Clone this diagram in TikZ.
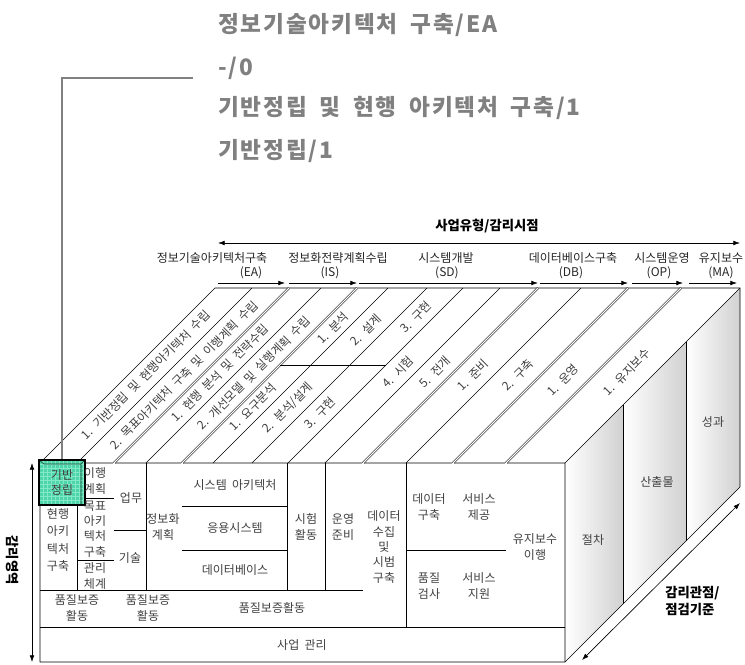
\documentclass[tikz,border=0pt]{standalone}
\usepackage{fontspec}
\setmainfont{Noto Sans CJK KR}[WordSpace=2]
\newfontfamily\titlefont{Noto Sans CJK KR}[LetterSpace=8,WordSpace=1.8]
\usetikzlibrary{arrows.meta}
\definecolor{hlfill}{RGB}{78,214,168}
\definecolor{hlgrid}{RGB}{130,232,200}
\definecolor{ttlgray}{RGB}{128,128,128}

\begin{document}
\begin{tikzpicture}[x=0.75pt, y=-0.75pt, line width=0.5pt, inner sep=0pt,
    lbl/.style={font=\fontsize{9}{11.5}\selectfont, text=black!75, align=center},
    tall/.style={lbl, font=\fontsize{9}{13}\selectfont},
    strip/.style={lbl, rotate=45},
    hdr/.style={font=\fontsize{9}{11}\selectfont, text=black!85},
    ttl/.style={font=\titlefont\bfseries\fontsize{17}{19}\selectfont, text=ttlgray, anchor=west},
    bold/.style={font=\bfseries\fontsize{10}{13}\selectfont},
    sect/.style={double, double distance=0.9pt, line width=0.4pt},
    harrow/.style={-{Latex[length=5pt,width=3.5pt]}},
    dim/.style={{Latex[length=5pt,width=3.5pt]}-{Latex[length=5pt,width=3.5pt]}},
    callout/.style={draw=ttlgray, line width=1.5pt}]
    \useasboundingbox (0,0) rectangle (745,664);

    % right face, three shaded slices
    \foreach \a/\ta/\b/\tb in {565/463/623/405, 623/405/686/342, 686/342/740/288}
        \shade[left color=white, right color=black!18] (\a,\ta) -- (\b,\tb) -- (\b,\tb+199) -- (\a,\ta+199) -- cycle;
    \draw (40,463) -- (215,288) -- (740,288) -- (740,487) -- (565,662) -- (40,662) -- cycle;
    \draw (40,463) -- (565,463) -- (740,288) (565,463) -- (565,662);
    \foreach \x in {623,686}
        \draw (\x,463-\x+565) -- (\x,662-\x+565);

    % top face strips
    \foreach \x in {77,146,213,252,288,325,406}
        \draw (\x,463) -- ++(175,-175);
    \foreach \x in {114,182,363,453,506}
        \draw[sect] (\x,463) -- ++(175,-175);
    \draw (280,365) -- (386,365);

    % front face grid
    \foreach \x in {114,182,363,453,506}
        \draw[sect] (\x,463) -- (\x,627);
    \foreach \x in {77,146,287,325}
        \draw (\x,463) -- (\x,590);
    \draw (406,463) -- (406,627);
    \draw (40,590) -- (363,590) (40,627) -- (565,627);
    \draw (77,498) -- (114,498) (77,560) -- (114,560) (114,530) -- (146,530);
    \draw (182,506) -- (287,506) (182,550) -- (287,550) (406,550) -- (506,550);

    % highlighted cell
    \fill[hlfill] (39,460) rectangle (85,505);
    \foreach \i in {43,47,...,83}
        \draw[hlgrid, line width=0.4pt] (\i,460) -- (\i,505);
    \foreach \j in {464,468,...,504}
        \draw[hlgrid, line width=0.4pt] (39,\j) -- (85,\j);
    \draw[black!70!hlfill, line width=0.4pt] (39,460) -- (44,464) -- (81,464) -- (85,460) (81,464) -- (81,505);
    \node[lbl, draw, line width=1.5pt, minimum width=34.5pt, minimum height=33.75pt] (hl) at (62,482.5) {기반\\정립};

    % front face labels
    \foreach \n/\x/\y/\t in {b1/95/481/{이행\\계획}, b2/95/529/{목표\\아키\\텍처\\구축}, b3/95/576/{관리\\체계},
            c1/131/498/업무, c2/130/558/기술,
            d1/163/527/{정보화\\계획}, e1/235/485/{시스템 아키텍처}, e2/235/528/응용시스템,
            e3/235/570/데이터베이스, f1/306/527/{시험\\활동}, g1/343/527/{운영\\준비},
            h1/384/547/{데이터\\수집\\및\\시범\\구축}, i1/429/507/{데이터\\구축}, i2/429/586/{품질\\검사},
            j1/479/507/{서비스\\제공}, j2/479/586/{서비스\\지원}, k1/535/547/{유지보수\\이행},
            q1/77/608/{품질보증\\활동}, q2/148/608/{품질보증\\활동}, q3/272/608/품질보증활동,
            p1/302/645/{사업 관리}}
        \node[lbl] (\n) at (\x,\y) {\t};
    \node[tall] (a2) at (58,540) {현행\\아키\\텍처\\구축};

    % top face labels
    \foreach \n/\x/\y/\t in {ea1/146/375/{1. 기반정립 및 현행아키텍처 수립},
            ea2/184/375/{2. 목표아키텍처 구축 및 이행계획 수립},
            is1/220/373/{1. 현행 분석 및 전략수립}, is2/254/373/{2. 개선모델 및 실행계획 수립},
            sd1/253/407/{1. 요구분석}, sd2/288/408/{2. 분석/설계}, sd3/320/413/{3. 구현},
            sd4/333/328/{1. 분석}, sd5/366/330/{2. 설계}, sd6/416/317/{3. 구현},
            sd7/398/372/{4. 시험}, sd8/435/372/{5. 전개}, db1/473/375/{1. 준비},
            db2/518/375/{2. 구축}, op1/563/380/{1. 운영}, ma1/627/372/{1. 유지보수}}
        \node[strip] (\n) at (\x,\y) {\t};

    % right face labels
    \node[lbl] (r1) at (593,540) {절차};
    \node[lbl] (r2) at (657,482) {산출물};
    \node[lbl] (r3) at (713,422) {성과};

    % project types
    \foreach \n/\x/\t in {ea/212/정보기술아키텍처구축, is/338/정보화전략계획수립, sd/446/시스템개발,
            db/573/데이터베이스구축, op/662/시스템운영, ma/721/유지보수}
        \node[hdr] (\n-nm) at (\x,258) {\t};
    \foreach \n/\x/\t in {ea/251/EA, is/330/IS, sd/447/SD, db/571/DB, op/659/OP, ma/721/MA}
        \node[hdr] (\n-cd) at (\x,273) {(\t)};
    \foreach \n/\a/\b in {ea/218/285, is/289/357, sd/359/538, db/540/628, op/632/683, ma/689/737} {
        \coordinate (\n-s) at (\a,283);
        \coordinate (\n-e) at (\b,283);
        \draw[harrow] (\n-s) -- (\n-e);
    }

    % axes
    \coordinate (tl) at (218,243);
    \coordinate (tr) at (740,243);
    \draw[dim] (tl) -- (tr);
    \node[bold] (top) at (487,226) {사업유형/감리시점};
    \coordinate (lt) at (32,463);
    \coordinate (lb) at (32,662);
    \draw[dim] (lt) -- (lb);
    \node[bold, rotate=-90] (left) at (12,560) {감리영역};
    \coordinate (rb) at (582,660);
    \coordinate (rt) at (740,503);
    \draw[dim] (rb) -- (rt);
    \node[bold, anchor=west, align=left] (right) at (665,601) {감리관점/\\점검기준};

    % callout
    \node[ttl] (t1) at (218,25) {정보기술아키텍처 구축/EA};
    \node[ttl] (t2) at (218,68) {-/0};
    \node[ttl] (t3) at (218,108) {기반정립 및 현행 아키텍처 구축/1};
    \node[ttl] (t4) at (218,151) {기반정립/1};
    \coordinate (co) at (193,78);
    \draw[callout] (co) -| (hl.north);
\end{tikzpicture}
\end{document}
